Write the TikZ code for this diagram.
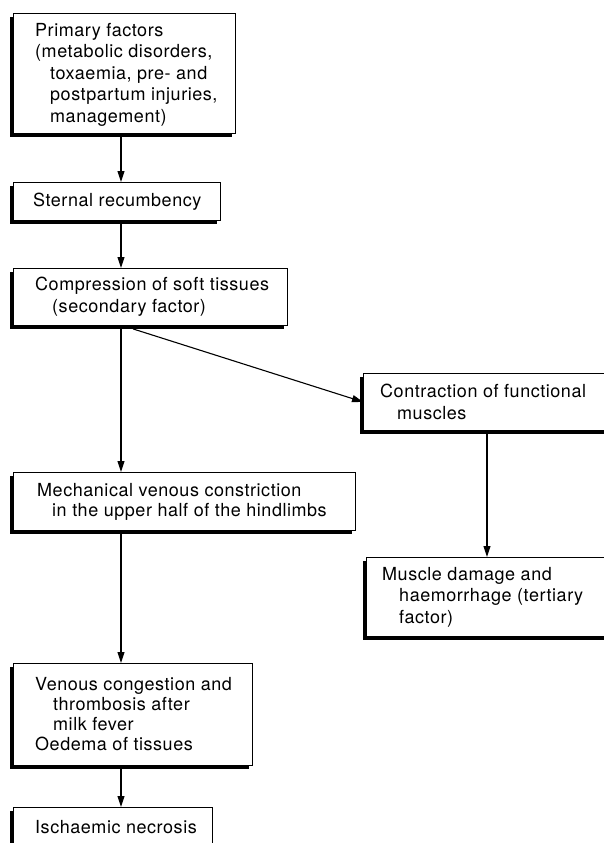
\documentclass[tikz,border=0pt]{standalone}
\usepackage{fontspec}
\setmainfont{TeX Gyre Heros}[LetterSpace=3]
\usetikzlibrary{arrows.meta,shadows}
\begin{document}
\begin{tikzpicture}[x=1pt,y=-1pt,
  box/.style={draw,line width=0.9pt,fill=white,anchor=north west,inner sep=0pt,
    drop shadow={shadow xshift=-3.5pt,shadow yshift=-3.5pt,fill=black,opacity=1}},
  txt/.style={anchor=west,inner sep=0pt,align=left,
    font=\fontsize{18}{21.5}\selectfont},
  tighttxt/.style={txt,font=\fontsize{18}{20}\selectfont},
  arr/.style={line width=1.1pt,-{Triangle[length=11pt,width=7pt]}}]
\useasboundingbox (0,0) rectangle (604,843);

\node[box,minimum width=222pt,minimum height=120pt] (b1) at (13,13) {};
\node[txt] (t1) at ([xshift=22pt,yshift=-1pt]b1.west)
  {Primary factors\\(metabolic disorders,\\\hspace*{15pt}toxaemia, pre- and\\\hspace*{15pt}postpartum injuries,\\\hspace*{15pt}management)};

\node[box,minimum width=207pt,minimum height=38pt] (b2) at (13,182) {};
\node[txt] (t2) at ([xshift=20pt]b2.west) {Sternal recumbency};

\node[box,minimum width=274pt,minimum height=57pt] (b3) at (13,268) {};
\node[txt] (t3) at ([xshift=22pt]b3.west)
  {Compression of soft tissues\\\hspace*{17pt}(secondary factor)};

\node[box,minimum width=247pt,minimum height=57pt] (c) at (363,373) {};
\node[txt] (tc) at ([xshift=17pt]c.west)
  {Contraction of functional\\\hspace*{17pt}muscles};

\node[box,minimum width=342pt,minimum height=58pt] (b4) at (13,472) {};
\node[tighttxt] (t4) at ([xshift=24pt]b4.west)
  {Mechanical venous constriction\\\hspace*{15pt}in the upper half of the hindlimbs};

\node[box,minimum width=244pt,minimum height=79pt] (m) at (366,557) {};
\node[txt] (tm) at ([xshift=16pt]m.west)
  {Muscle damage and\\\hspace*{17pt}haemorrhage (tertiary\\\hspace*{17pt}factor)};

\node[box,minimum width=239pt,minimum height=102pt] (v) at (13,663) {};
\node[tighttxt] (tv) at ([xshift=22pt]v.west)
  {Venous congestion and\\\hspace*{18pt}thrombosis after\\\hspace*{18pt}milk fever\\Oedema of tissues};

\node[box,minimum width=199pt,minimum height=40pt] (i) at (13,807) {};
\node[txt] (ti) at ([xshift=22pt]i.west) {Ischaemic necrosis};

\coordinate (colA) at (121,0);
\coordinate (colB) at (487,0);
\coordinate (diag) at (133,0);

\draw[arr] (b1.south -| colA) -- (b2.north -| colA);
\draw[arr] (b2.south -| colA) -- (b3.north -| colA);
\draw[arr] (b3.south -| colA) -- (b4.north -| colA);
\draw[arr] ([yshift=-3pt]b3.south -| diag) -- (c.west);
\draw[arr] (c.south -| colB) -- (m.north -| colB);
\draw[arr] (b4.south -| colA) -- (v.north -| colA);
\draw[arr] (v.south -| colA) -- (i.north -| colA);
\end{tikzpicture}
\end{document}
